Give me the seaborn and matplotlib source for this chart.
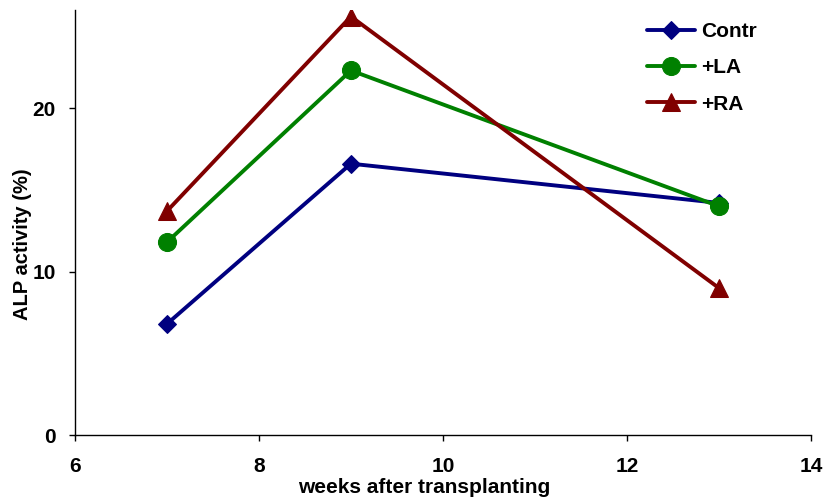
import matplotlib
matplotlib.use("Agg")
import matplotlib.pyplot as plt
import seaborn as sns
import pandas as pd

weeks = [7, 9, 13]
contr = [6.8, 16.6, 14.2]
la = [11.8, 22.3, 14.0]
ra = [13.7, 25.6, 9.0]
series_names = ["Contr", "+LA", "+RA"]
colors = ["#000080", "#008000", "#800000"]
markers = ["D", "o", "^"]
msizes = [9, 13, 13]

sns.set_theme(style="white")
plt.rcParams['font.family'] = ['Liberation Sans', 'DejaVu Sans']
plt.rcParams['font.weight'] = 'bold'
plt.rcParams['text.color'] = 'black'
plt.rcParams['axes.labelcolor'] = 'black'
plt.rcParams['xtick.color'] = 'black'
plt.rcParams['ytick.color'] = 'black'

fig = plt.figure(figsize=(8.24, 4.99), dpi=100)
ax = fig.add_axes([0.091, 0.128, 0.893, 0.852])

for name, vals, c, m, ms in zip(series_names, [contr, la, ra], colors, markers, msizes):
    df = pd.DataFrame({"week": weeks, "val": vals})
    sns.lineplot(data=df, x="week", y="val", ax=ax, color=c, marker=m,
                 markersize=ms, markeredgecolor=c, linewidth=2.8, label=name)

ax.set_xlim(6, 14)
ax.set_ylim(0, 26)
ax.set_xticks([6, 8, 10, 12, 14])
ax.set_yticks([0, 10, 20])
ax.set_xlabel("weeks after transplanting", fontsize=15, fontweight='bold', labelpad=1)
ax.set_ylabel("ALP activity (%)", fontsize=14.5, fontweight='bold', labelpad=0)
ax.tick_params(axis='both', which='major', labelsize=15, length=4, width=1,
               direction='out', color='black', bottom=True, left=True)
ax.tick_params(axis='x', pad=12)
ax.tick_params(axis='y', pad=10)
ax.xaxis.label.set_x(0.475)
ax.yaxis.label.set_y(0.45)
for lab in ax.get_xticklabels() + ax.get_yticklabels():
    lab.set_fontweight('bold')
for s in ['top', 'right']:
    ax.spines[s].set_visible(False)
for s in ['left', 'bottom']:
    ax.spines[s].set_color('black')
    ax.spines[s].set_linewidth(1)

leg = ax.legend(loc='upper right', bbox_to_anchor=(0.952, 1.015), frameon=False,
                prop={'weight': 'bold', 'size': 15}, handlelength=2.3,
                labelspacing=0.82, handletextpad=0.3)

fig.savefig("out.png", dpi=100)
